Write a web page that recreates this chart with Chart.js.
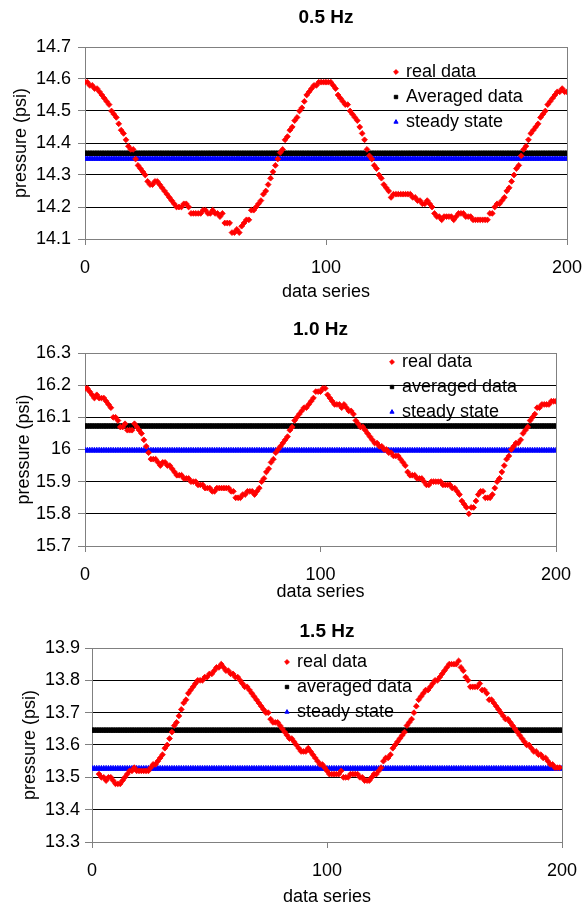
<!DOCTYPE html>
<html>
<head>
<meta charset="utf-8">
<script src="https://cdn.jsdelivr.net/npm/chart.js@4.4.1/dist/chart.umd.min.js"></script>
<style>
  html, body { margin: 0; padding: 0; background: #fff; overflow: hidden; width: 582px; height: 907px; }
  canvas { position: absolute; left: 0; }
</style>
</head>
<body>
<canvas id="chart1"></canvas>
<canvas id="chart2"></canvas>
<canvas id="chart3"></canvas>
<script>
// ---- data ----
const chartTitles = ["0.5 Hz", "1.0 Hz", "1.5 Hz"];
const legendLabels = [
  ["real data", "Averaged data", "steady state"],
  ["real data", "averaged data", "steady state"],
  ["real data", "averaged data", "steady state"],
];
const xTickValues = [0, 100, 200];
const yMins = [14.1, 15.7, 13.3];
const yMaxs = [14.7, 16.3, 13.9];
const yStep = 0.1;

// real data, one value per data-series index (0..200)
const realData05 = [
  14.59, 14.59, 14.58, 14.58, 14.57, 14.57, 14.56, 14.55, 14.54, 14.53,
  14.52, 14.50, 14.49, 14.48, 14.46, 14.44, 14.43, 14.41, 14.39, 14.38,
  14.38, 14.35, 14.33, 14.32, 14.31, 14.30, 14.28, 14.27, 14.27, 14.28,
  14.28, 14.27, 14.26, 14.25, 14.24, 14.23, 14.22, 14.21, 14.20, 14.20,
  14.20, 14.21, 14.21, 14.20, 14.18, 14.18, 14.18, 14.18, 14.18, 14.19,
  14.19, 14.18, 14.18, 14.19, 14.18, 14.18, 14.17, 14.18, 14.15, 14.15,
  14.15, 14.12, 14.12, 14.13, 14.12, 14.14, 14.15, 14.16, 14.16, 14.19,
  14.19, 14.20, 14.21, 14.22, 14.24, 14.25, 14.27, 14.29, 14.31, 14.33,
  14.35, 14.37, 14.38, 14.41, 14.42, 14.44, 14.45, 14.47, 14.48, 14.50,
  14.51, 14.53, 14.55, 14.56, 14.57, 14.58, 14.58, 14.59, 14.59, 14.59,
  14.59, 14.59, 14.59, 14.58, 14.57, 14.55, 14.54, 14.53, 14.52, 14.52,
  14.50, 14.49, 14.48, 14.47, 14.45, 14.43, 14.41, 14.38, 14.36, 14.35,
  14.33, 14.32, 14.30, 14.29, 14.27, 14.26, 14.25, 14.23, 14.24, 14.24,
  14.24, 14.24, 14.24, 14.24, 14.24, 14.24, 14.23, 14.23, 14.22, 14.22,
  14.21, 14.21, 14.22, 14.21, 14.20, 14.18, 14.17, 14.17, 14.16, 14.17,
  14.17, 14.17, 14.17, 14.16, 14.17, 14.18, 14.18, 14.18, 14.17, 14.17,
  14.17, 14.16, 14.16, 14.16, 14.16, 14.16, 14.16, 14.16, 14.18, 14.18,
  14.20, 14.21, 14.21, 14.22, 14.23, 14.25, 14.26, 14.28, 14.30, 14.32,
  14.33, 14.36, 14.38, 14.39, 14.41, 14.43, 14.44, 14.45, 14.46, 14.48,
  14.49, 14.50, 14.52, 14.53, 14.54, 14.55, 14.56, 14.56, 14.57, 14.56,
  14.56,
];
const realData10 = [
  16.19, 16.19, 16.18, 16.17, 16.16, 16.17, 16.16, 16.16, 16.16, 16.15,
  16.14, 16.13, 16.10, 16.10, 16.09, 16.07, 16.07, 16.08, 16.06, 16.06,
  16.06, 16.08, 16.07, 16.06, 16.05, 16.03, 16.01, 15.99, 15.97, 15.97,
  15.97, 15.96, 15.95, 15.96, 15.96, 15.95, 15.95, 15.94, 15.93, 15.92,
  15.92, 15.92, 15.91, 15.91, 15.91, 15.90, 15.90, 15.90, 15.89, 15.89,
  15.89, 15.88, 15.88, 15.88, 15.87, 15.87, 15.88, 15.88, 15.88, 15.88,
  15.88, 15.88, 15.87, 15.87, 15.85, 15.85, 15.85, 15.86, 15.86, 15.87,
  15.87, 15.87, 15.86, 15.87, 15.88, 15.90, 15.91, 15.93, 15.94, 15.96,
  15.97, 15.99, 16.00, 16.01, 16.02, 16.03, 16.04, 16.06, 16.07, 16.09,
  16.10, 16.11, 16.12, 16.13, 16.13, 16.14, 16.15, 16.16, 16.18, 16.18,
  16.18, 16.19, 16.19, 16.17, 16.16, 16.15, 16.14, 16.14, 16.14, 16.13,
  16.14, 16.13, 16.12, 16.12, 16.11, 16.09, 16.08, 16.07, 16.07, 16.06,
  16.05, 16.04, 16.03, 16.02, 16.02, 16.01, 16.01, 16.00, 16.00, 15.99,
  15.99, 15.98, 15.98, 15.98, 15.97, 15.96, 15.95, 15.93, 15.92, 15.92,
  15.92, 15.91, 15.91, 15.91, 15.90, 15.89, 15.89, 15.90, 15.90, 15.90,
  15.90, 15.90, 15.89, 15.89, 15.89, 15.89, 15.88, 15.88, 15.87, 15.86,
  15.84, 15.83, 15.82, 15.80, 15.82, 15.82, 15.84, 15.86, 15.87, 15.87,
  15.85, 15.85, 15.85, 15.86, 15.88, 15.90, 15.91, 15.93, 15.95, 15.97,
  15.98, 16.00, 16.01, 16.02, 16.02, 16.03, 16.05, 16.06, 16.07, 16.09,
  16.10, 16.11, 16.13, 16.13, 16.14, 16.14, 16.14, 16.14, 16.15, 16.15,
  16.15,
];
const realData15 = [
  null, null, null, 13.51, 13.50, 13.50, 13.49, 13.50, 13.50, 13.49,
  13.48, 13.48, 13.48, 13.49, 13.50, 13.51, 13.52, 13.52, 13.53, 13.52,
  13.52, 13.52, 13.52, 13.52, 13.52, 13.53, 13.54, 13.54, 13.55, 13.56,
  13.57, 13.59, 13.60, 13.62, 13.64, 13.66, 13.67, 13.69, 13.71, 13.73,
  13.74, 13.76, 13.77, 13.78, 13.79, 13.80, 13.80, 13.80, 13.81, 13.81,
  13.82, 13.82, 13.83, 13.84, 13.84, 13.85, 13.84, 13.83, 13.83, 13.82,
  13.82, 13.81, 13.81, 13.80, 13.79, 13.78, 13.78, 13.77, 13.76, 13.75,
  13.74, 13.73, 13.72, 13.71, 13.70, 13.70, 13.68, 13.67, 13.67, 13.67,
  13.66, 13.65, 13.64, 13.63, 13.62, 13.62, 13.61, 13.60, 13.59, 13.58,
  13.58, 13.58, 13.59, 13.58, 13.57, 13.56, 13.55, 13.54, 13.54, 13.53,
  13.52, 13.51, 13.51, 13.51, 13.51, 13.51, 13.52, 13.50, 13.50, 13.50,
  13.51, 13.51, 13.51, 13.51, 13.50, 13.50, 13.49, 13.49, 13.49, 13.50,
  13.51, 13.51, 13.52, 13.53, 13.55, 13.56, 13.56, 13.57, 13.59, 13.60,
  13.61, 13.62, 13.63, 13.64, 13.66, 13.67, 13.68, 13.70, 13.72, 13.74,
  13.75, 13.76, 13.77, 13.77, 13.78, 13.79, 13.80, 13.80, 13.81, 13.82,
  13.83, 13.84, 13.85, 13.85, 13.85, 13.85, 13.86, 13.84, 13.83, 13.81,
  13.80, 13.78, 13.78, 13.78, 13.78, 13.79, 13.77, 13.77, 13.76, 13.74,
  13.74, 13.73, 13.72, 13.71, 13.70, 13.69, 13.68, 13.68, 13.67, 13.66,
  13.65, 13.64, 13.63, 13.62, 13.61, 13.60, 13.60, 13.59, 13.58, 13.58,
  13.57, 13.57, 13.56, 13.56, 13.55, 13.54, 13.54, 13.53, 13.53, 13.53,
];
const realSeries = [realData05, realData10, realData15];

// constant levels drawn across every index 0..200
const averagedLevels = [14.368, 16.073, 13.646];
const steadyLevels = [14.351, 15.997, 13.527];
const levelCount = 201;

// ---- layout, per chart (page pixels) ----
const layouts = [
  { top: 0,   height: 305, axisW: 85, padRight: 15, titleTop: 6.6,  titleBottom: 17.6, xAxisH: 66, xTitlePad: 2.2, yTitlePad: 10, yTickPad: 7, legendX: 406, legendY: 72 },
  { top: 305, height: 300, axisW: 85, padRight: 26, titleTop: 13.6, titleBottom: 11.6, xAxisH: 59, xTitlePad: 1.7, yTitlePad: 13, yTickPad: 7, legendX: 402, legendY: 57 },
  { top: 605, height: 303, axisW: 92, padRight: 20, titleTop: 15.6, titleBottom: 4.6,  xAxisH: 66, xTitlePad: 0.2, yTitlePad: 19, yTickPad: 5, legendX: 297, legendY: 57 },
];

const FONT = "'Liberation Sans', Arial, Helvetica, sans-serif";
Chart.defaults.font.family = FONT;
Chart.defaults.color = "#000";

// gray frame on the right side of the plot area
const plotFrame = {
  id: "plotFrame",
  beforeDatasetsDraw(chart) {
    const { ctx, chartArea } = chart;
    ctx.save();
    ctx.strokeStyle = "#808080";
    ctx.lineWidth = 1;
    ctx.beginPath();
    const x = Math.round(chartArea.right) + 0.5;
    ctx.moveTo(x, chartArea.top);
    ctx.lineTo(x, chartArea.bottom);
    ctx.stroke();
    ctx.restore();
  },
};

// legend drawn inside the plot area like the spreadsheet one
const insideLegend = {
  id: "insideLegend",
  afterDraw(chart, args, opts) {
    const ctx = chart.ctx;
    const drawPoint = Chart.helpers && Chart.helpers.drawPoint;
    ctx.save();
    ctx.font = "18px " + FONT;
    ctx.textBaseline = "middle";
    chart.data.datasets.forEach((ds, i) => {
      const y = opts.y + i * opts.spacing;
      const mx = opts.x - 10;
      ctx.fillStyle = ds.backgroundColor;
      ctx.strokeStyle = ds.borderColor;
      ctx.lineWidth = 1;
      if (drawPoint) {
        drawPoint(ctx, { pointStyle: ds.pointStyle, radius: 2.4, borderWidth: 1, rotation: 0 }, mx, y);
      } else {
        ctx.fillRect(mx - 2, y - 2, 4, 4);
      }
      ctx.fillStyle = "#000";
      ctx.fillText(ds.label, opts.x, y);
    });
    ctx.restore();
  },
};

const makeChart = (idx) => {
  const L = layouts[idx];
  const canvas = document.getElementById("chart" + (idx + 1));
  Object.assign(canvas, { width: 582, height: L.height });
  canvas.style.top = L.top + "px";
  canvas.style.width = "582px";
  canvas.style.height = L.height + "px";

  const real = realSeries[idx].map((v, i) => ({ x: i, y: v }));
  const averaged = Array.from({ length: levelCount }, (_, i) => ({ x: i, y: averagedLevels[idx] }));
  const steady = Array.from({ length: levelCount }, (_, i) => ({ x: i, y: steadyLevels[idx] }));
  const labels = legendLabels[idx];

  return new Chart(canvas.getContext("2d"), {
    type: "scatter",
    data: {
      datasets: [
        { label: labels[0], data: real, pointStyle: "rectRot", pointRadius: 2.9, borderWidth: 0.8,
          backgroundColor: "#ff0000", borderColor: "#ff0000", showLine: false },
        { label: labels[1], data: averaged, pointStyle: "rect", pointRadius: 3, borderWidth: 1,
          backgroundColor: "#000000", borderColor: "#000000", showLine: false },
        { label: labels[2], data: steady, pointStyle: "triangle", pointRadius: 3.3, borderWidth: 0.8,
          backgroundColor: "#0000ff", borderColor: "#0000ff", showLine: false },
      ],
    },
    options: {
      responsive: false,
      animation: false,
      events: [],
      layout: { padding: { left: 0, right: L.padRight, top: 0, bottom: 0 } },
      plugins: {
        legend: { display: false },
        tooltip: { enabled: false },
        title: {
          display: true,
          text: chartTitles[idx],
          fullSize: false,
          color: "#000",
          font: { size: 19, weight: "bold", lineHeight: 1.2 },
          padding: { top: L.titleTop, bottom: L.titleBottom },
        },
        insideLegend: { x: L.legendX, y: L.legendY, spacing: 25 },
      },
      scales: {
        x: {
          type: "linear",
          min: xTickValues[0],
          max: xTickValues[xTickValues.length - 1],
          afterBuildTicks: (scale) => { scale.ticks = xTickValues.map((v) => ({ value: v })); },
          afterFit: (scale) => {
            scale.height = L.xAxisH;
            scale.paddingLeft = 0;
            scale.paddingRight = 0;
          },
          grid: { drawOnChartArea: false, drawTicks: true, tickLength: 6, tickColor: "#808080" },
          border: { color: "#808080", width: 1 },
          ticks: { padding: 12, font: { size: 18 }, color: "#000", maxRotation: 0 },
          title: { display: true, text: "data series", font: { size: 18, lineHeight: 1.2 },
                   color: "#000", padding: { top: 0, bottom: L.xTitlePad } },
        },
        y: {
          min: yMins[idx],
          max: yMaxs[idx],
          afterFit: (scale) => {
            scale.width = L.axisW;
            scale.paddingTop = 0;
            scale.paddingBottom = 0;
          },
          grid: {
            color: (c) => (c.tick && Math.abs(c.tick.value - yMaxs[idx]) < 1e-6 ? "#808080" : "#000"),
            lineWidth: 1,
            tickLength: 7,
            tickColor: "#808080",
          },
          border: { color: "#808080", width: 1 },
          ticks: {
            stepSize: yStep,
            padding: L.yTickPad,
            font: { size: 18 },
            color: "#000",
            callback: (v) => String(Number(v.toFixed(2))),
          },
          title: { display: true, text: "pressure (psi)", font: { size: 18, lineHeight: 1.2 },
                   color: "#000", padding: { top: L.yTitlePad, bottom: 0 } },
        },
      },
    },
    plugins: [plotFrame, insideLegend],
  });
};

[0, 1, 2].forEach(makeChart);
</script>
</body>
</html>
